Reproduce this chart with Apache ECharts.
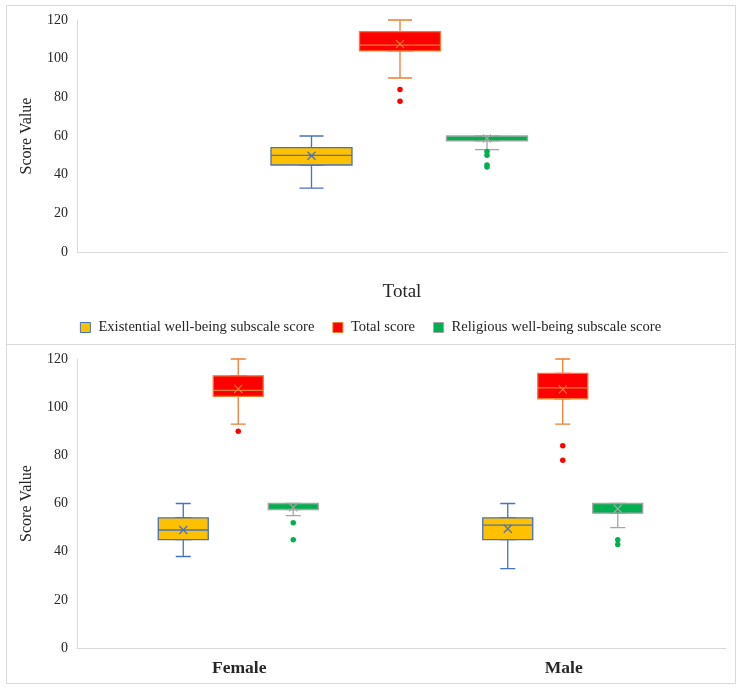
<!DOCTYPE html>
<html>
<head>
<meta charset="utf-8">
<script src="https://cdn.jsdelivr.net/npm/echarts@6/dist/echarts.min.js"></script>
<style>
  html, body { margin: 0; padding: 0; background: #fff; }
  #chart { width: 741px; height: 689px; }
</style>
</head>
<body>
<div id="chart"></div>
<script>
// ---------------- DATA ----------------
const seriesNames = ['Existential well-being subscale score', 'Total score', 'Religious well-being subscale score'];
const topCategories = ['Total'];
const bottomCategories = ['Female', 'Male'];
const yMin = 0, yMax = 120, yStep = 20;

// five-number summaries [min, Q1, median, Q3, max], one entry per category
const existentialTop = [[33, 45, 50, 54, 60]];
const totalScoreTop = [[90, 104, 107, 114, 120]];
const religiousTop = [[53, 57.5, 60, 60, 60]];

const existentialBottom = [[38, 45, 49, 54, 60], [33, 45, 51, 54, 60]];
const totalScoreBottom = [[93, 104.5, 107, 113, 120], [93, 103.5, 108, 114, 120]];
const religiousBottom = [[55, 57.5, 60, 60, 60], [50, 56, 60, 60, 60]];

// means, one per category
const existentialTopMean = [49.8];
const totalScoreTopMean = [107.5];
const religiousTopMean = [58.7];
const existentialBottomMean = [49, 49.5];
const totalScoreBottomMean = [107.6, 107.4];
const religiousBottomMean = [58.4, 57.8];

// outliers [categoryIndex, value]
const existentialTopOutliers = [];
const totalScoreTopOutliers = [[0, 84], [0, 78]];
const religiousTopOutliers = [[0, 52], [0, 50], [0, 45], [0, 44]];
const existentialBottomOutliers = [];
const totalScoreBottomOutliers = [[0, 90], [1, 84], [1, 78]];
const religiousBottomOutliers = [[0, 52], [0, 45], [1, 45], [1, 43]];

// ---------------- STYLE ----------------
const fills = ['#FFC000', '#FF0000', '#00B050'];
const borders = ['#4472C4', '#ED7D31', '#A5A5A5'];
const FONT = '"Liberation Serif", "DejaVu Serif", serif';
const XMARK = 'path://M0,0L10,10M10,0L0,10';

const option = {
  animation: false,
  textStyle: { fontFamily: FONT },
  grid: [], xAxis: [], yAxis: [], series: [],
  legend: {
    top: 315, left: 'center',
    itemWidth: 10, itemHeight: 10, itemGap: 18,
    textStyle: { fontSize: 14.6, color: '#262626', fontFamily: FONT, padding: [0, 0, 0, 3] },
    data: seriesNames.map((n, i) => ({ name: n, icon: 'rect', itemStyle: { color: fills[i], borderColor: borders[i], borderWidth: 1 } }))
  },
  graphic: [
    { type: 'rect', shape: { x: 6.5, y: 5.5, width: 729, height: 339 }, style: { fill: 'none', stroke: '#d9d9d9', lineWidth: 1 }, silent: true },
    { type: 'rect', shape: { x: 6.5, y: 344.5, width: 729, height: 339 }, style: { fill: 'none', stroke: '#d9d9d9', lineWidth: 1 }, silent: true }
  ]
};

function addPanel(cfg) {
  const g0 = option.grid.length;
  option.grid.push({ left: cfg.left, width: cfg.width, top: cfg.top, height: cfg.height, outerBoundsMode: 'none', containLabel: false });
  option.xAxis.push({
    type: 'category', gridIndex: g0, data: cfg.categories,
    axisLine: { lineStyle: { color: '#d9d9d9', width: 1 } },
    axisTick: { show: false },
    axisLabel: Object.assign({ color: '#262626', fontFamily: FONT }, cfg.xLabel)
  });
  option.yAxis.push({
    type: 'value', gridIndex: g0, min: yMin, max: yMax, interval: yStep,
    name: 'Score Value', nameLocation: 'middle', nameGap: 42, nameRotate: 90,
    nameTextStyle: { fontSize: 16, color: '#262626', fontFamily: FONT },
    axisLine: { show: true, lineStyle: { color: '#d9d9d9', width: 1 } },
    axisTick: { show: false }, splitLine: { show: false },
    axisLabel: { fontSize: 14, color: '#262626', margin: 9, fontFamily: FONT }
  });
  for (let i = 0; i < 3; i++) {
    const off = cfg.offsets[i];
    const gi = option.grid.length;
    option.grid.push({ left: cfg.left + off, width: cfg.width, top: cfg.top, height: cfg.height, outerBoundsMode: 'none', containLabel: false });
    const xn = option.xAxis.length;
    option.xAxis.push({ type: 'category', gridIndex: gi, data: cfg.categories, show: false });
    const xw = option.xAxis.length;
    option.xAxis.push({ type: 'category', gridIndex: gi, data: cfg.categories, show: false });
    const yi = option.yAxis.length;
    option.yAxis.push({ type: 'value', gridIndex: gi, min: yMin, max: yMax, interval: yStep, show: false });
    const st = cfg.stats[i];
    const style = { color: fills[i], borderColor: borders[i], borderWidth: 1.3 };
    // whiskers + caps (narrow)
    option.series.push({
      type: 'boxplot', name: seriesNames[i], xAxisIndex: xn, yAxisIndex: yi,
      boxWidth: [cfg.capW, cfg.capW], data: st, itemStyle: style, z: 2,
      emphasis: { disabled: true }
    });
    // box body (wide)
    option.series.push({
      type: 'boxplot', name: seriesNames[i], xAxisIndex: xw, yAxisIndex: yi,
      boxWidth: [cfg.boxW, cfg.boxW], data: st.map(s => [s[1], s[1], s[2], s[3], s[3]]),
      itemStyle: style, z: 3, emphasis: { disabled: true }
    });
    option.series.push({
      type: 'scatter', name: seriesNames[i], xAxisIndex: xw, yAxisIndex: yi,
      data: cfg.means[i].map((m, ci) => [ci, m]),
      symbol: XMARK, symbolSize: 8,
      itemStyle: { color: 'rgba(0,0,0,0)', borderColor: borders[i], borderWidth: 1.2, opacity: 1 }, z: 5,
      emphasis: { disabled: true }
    });
    option.series.push({
      type: 'scatter', name: seriesNames[i], xAxisIndex: xw, yAxisIndex: yi,
      data: cfg.outliers[i], symbol: 'circle', symbolSize: 5.5,
      itemStyle: { color: fills[i], opacity: 1 }, z: 5, emphasis: { disabled: true }
    });
  }
}

addPanel({
  categories: topCategories,
  left: 77, width: 650, top: 20, height: 232,
  offsets: [-90.5, -2, 85], boxW: 81, capW: 24,
  stats: [existentialTop, totalScoreTop, religiousTop],
  means: [existentialTopMean, totalScoreTopMean, religiousTopMean],
  outliers: [existentialTopOutliers, totalScoreTopOutliers, religiousTopOutliers],
  xLabel: { fontSize: 19, margin: 31 }
});
addPanel({
  categories: bottomCategories,
  left: 77, width: 649, top: 359, height: 289,
  offsets: [-56, -1, 54], boxW: 50, capW: 15,
  stats: [existentialBottom, totalScoreBottom, religiousBottom],
  means: [existentialBottomMean, totalScoreBottomMean, religiousBottomMean],
  outliers: [existentialBottomOutliers, totalScoreBottomOutliers, religiousBottomOutliers],
  xLabel: { fontSize: 17.5, fontWeight: 'bold', margin: 11 }
});

const chart = echarts.init(document.getElementById('chart'), null, { renderer: 'canvas' });
chart.setOption(option);
</script>
</body>
</html>
